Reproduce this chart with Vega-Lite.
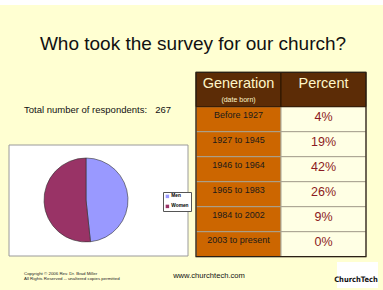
{
  "$schema": "https://vega.github.io/schema/vega-lite/v6.json",
  "width": 383,
  "height": 290,
  "autosize": {"type": "fit", "contains": "padding"},
  "padding": {"top": 5, "left": 0, "right": 0, "bottom": 0},
  "background": "#ffffff",
  "config": {
    "view": {"fill": "#FFFFD2", "stroke": null},
    "font": "Liberation Sans",
    "text": {"font": "Liberation Sans"},
    "axis": {"disable": true}
  },
  "datasets": {
    "generations": [
      {"generation": "Before 1927", "share": 0.04},
      {"generation": "1927 to 1945", "share": 0.19},
      {"generation": "1946 to 1964", "share": 0.42},
      {"generation": "1965 to 1983", "share": 0.26},
      {"generation": "1984 to 2002", "share": 0.09},
      {"generation": "2003 to present", "share": 0.0}
    ],
    "header": [
      {"column": "generation", "label": "Generation", "note": "(date born)"},
      {"column": "share", "label": "Percent", "note": ""}
    ],
    "respondents": [
      {"sex": "Men", "count": 129},
      {"sex": "Women", "count": 138}
    ],
    "total": [{"total": 267}]
  },
  "resolve": {"scale": {"x": "independent", "y": "independent", "color": "independent", "fill": "independent", "theta": "independent"}},
  "layer": [
    {
      "data": {"values": [{"panel": "Respondents by sex"}]},
      "mark": {"type": "rect", "fill": "#ffffff", "stroke": "#9a9a9a", "strokeWidth": 1},
      "encoding": {
        "x": {"field": "panel", "type": "nominal", "axis": null, "scale": {"type": "band", "domain": ["Respondents by sex"], "range": [9, 188], "paddingInner": 0, "paddingOuter": 0}},
        "y": {"field": "panel", "type": "nominal", "axis": null, "scale": {"type": "band", "domain": ["Respondents by sex"], "range": [140, 251], "paddingInner": 0, "paddingOuter": 0}}
      }
    },
    {
      "data": {"name": "respondents"},
      "mark": {"type": "arc", "radius": 42, "stroke": "#333333", "strokeWidth": 0.6},
      "encoding": {
        "theta": {"field": "count", "type": "quantitative", "stack": true},
        "order": {"field": "sex", "type": "nominal", "sort": "ascending"},
        "color": {
          "field": "sex", "type": "nominal",
          "scale": {"domain": ["Men", "Women"], "range": ["#9999FF", "#993366"]},
          "legend": {
            "orient": "none", "legendX": 163, "legendY": 187, "title": null,
            "symbolType": "square", "symbolSize": 12, "symbolStrokeWidth": 0,
            "labelFontSize": 4.8, "labelFontWeight": "bold", "labelOffset": 1.5,
            "rowPadding": 4, "padding": 2, "strokeColor": "#555555", "fillColor": "#ffffff"
          }
        },
        "x": {"datum": "Respondents by sex", "type": "nominal", "axis": null, "scale": {"type": "point", "domain": ["Respondents by sex"], "range": [49, 123]}},
        "y": {"datum": "Respondents by sex", "type": "nominal", "axis": null, "scale": {"type": "point", "domain": ["Respondents by sex"], "range": [150, 240]}}
      }
    },
    {
      "data": {"name": "generations"},
      "transform": [{"fold": ["generation", "share"], "as": ["column", "cell"]}],
      "mark": {"type": "rect", "stroke": "#a8a290", "strokeWidth": 1},
      "encoding": {
        "x": {"field": "column", "type": "nominal", "axis": null, "scale": {"type": "band", "domain": ["generation", "share"], "range": [196, 366], "paddingInner": 0, "paddingOuter": 0}},
        "y": {"field": "generation", "type": "nominal", "axis": null, "scale": {"type": "band", "domain": ["Before 1927", "1927 to 1945", "1946 to 1964", "1965 to 1983", "1984 to 2002", "2003 to present"], "range": [101.7, 251.7], "paddingInner": 0, "paddingOuter": 0}},
        "fill": {"field": "column", "type": "nominal", "legend": null, "scale": {"domain": ["generation", "share"], "range": ["#CC6600", "#FFFFE4"]}}
      }
    },
    {
      "data": {"name": "generations"},
      "mark": {"type": "text", "fontSize": 9, "color": "#1a1a1a", "dy": -4.5, "baseline": "middle"},
      "encoding": {
        "x": {"datum": "generation", "type": "nominal", "axis": null, "scale": {"type": "band", "domain": ["generation", "share"], "range": [196, 366], "paddingInner": 0, "paddingOuter": 0}},
        "y": {"field": "generation", "type": "nominal", "axis": null, "scale": {"type": "band", "domain": ["Before 1927", "1927 to 1945", "1946 to 1964", "1965 to 1983", "1984 to 2002", "2003 to present"], "range": [101.7, 251.7], "paddingInner": 0, "paddingOuter": 0}},
        "text": {"field": "generation", "type": "nominal"}
      }
    },
    {
      "data": {"name": "generations"},
      "mark": {"type": "text", "fontSize": 12.5, "color": "#8B1A22", "dy": -2.5, "baseline": "middle"},
      "encoding": {
        "x": {"datum": "share", "type": "nominal", "axis": null, "scale": {"type": "band", "domain": ["generation", "share"], "range": [196, 366], "paddingInner": 0, "paddingOuter": 0}},
        "y": {"field": "generation", "type": "nominal", "axis": null, "scale": {"type": "band", "domain": ["Before 1927", "1927 to 1945", "1946 to 1964", "1965 to 1983", "1984 to 2002", "2003 to present"], "range": [101.7, 251.7], "paddingInner": 0, "paddingOuter": 0}},
        "text": {"field": "share", "type": "quantitative", "format": ".0%"}
      }
    },
    {
      "data": {"name": "header"},
      "mark": {"type": "rect", "fill": "#5C2C06", "stroke": "#2a1400", "strokeWidth": 1},
      "encoding": {
        "x": {"field": "column", "type": "nominal", "axis": null, "scale": {"type": "band", "domain": ["generation", "share"], "range": [196, 366], "paddingInner": 0, "paddingOuter": 0}},
        "y": {"datum": "header", "type": "nominal", "axis": null, "scale": {"type": "band", "domain": ["header"], "range": [67.3, 101.7], "paddingInner": 0, "paddingOuter": 0}}
      }
    },
    {
      "data": {"name": "header"},
      "mark": {"type": "text", "fontSize": 14.5, "color": "#FFF6C8", "dy": -6, "baseline": "middle"},
      "encoding": {
        "x": {"field": "column", "type": "nominal", "axis": null, "scale": {"type": "band", "domain": ["generation", "share"], "range": [196, 366], "paddingInner": 0, "paddingOuter": 0}},
        "y": {"datum": "header", "type": "nominal", "axis": null, "scale": {"type": "band", "domain": ["header"], "range": [67.3, 101.7], "paddingInner": 0, "paddingOuter": 0}},
        "text": {"field": "label", "type": "nominal"}
      }
    },
    {
      "data": {"name": "header"},
      "mark": {"type": "text", "fontSize": 7, "color": "#FFF6C8", "dy": 10, "baseline": "middle"},
      "encoding": {
        "x": {"field": "column", "type": "nominal", "axis": null, "scale": {"type": "band", "domain": ["generation", "share"], "range": [196, 366], "paddingInner": 0, "paddingOuter": 0}},
        "y": {"datum": "header", "type": "nominal", "axis": null, "scale": {"type": "band", "domain": ["header"], "range": [67.3, 101.7], "paddingInner": 0, "paddingOuter": 0}},
        "text": {"field": "note", "type": "nominal"}
      }
    },
    {
      "data": {"values": [{"part": "table"}]},
      "mark": {"type": "rect", "filled": false, "stroke": "#2b2015", "strokeWidth": 1.2},
      "encoding": {
        "x": {"field": "part", "type": "nominal", "axis": null, "scale": {"type": "band", "domain": ["table"], "range": [196, 366], "paddingInner": 0, "paddingOuter": 0}},
        "y": {"field": "part", "type": "nominal", "axis": null, "scale": {"type": "band", "domain": ["table"], "range": [67.3, 251.7], "paddingInner": 0, "paddingOuter": 0}}
      }
    },
    {
      "data": {"values": [{"part": "logo"}]},
      "mark": {"type": "rect", "fill": "#ffffff"},
      "encoding": {
        "x": {"field": "part", "type": "nominal", "axis": null, "scale": {"type": "band", "domain": ["logo"], "range": [337, 378], "paddingInner": 0, "paddingOuter": 0}},
        "y": {"field": "part", "type": "nominal", "axis": null, "scale": {"type": "band", "domain": ["logo"], "range": [257, 283], "paddingInner": 0, "paddingOuter": 0}}
      }
    },
    {
      "data": {"values": [{}]},
      "mark": {"type": "text", "text": "Who took the survey for our church?", "fontSize": 19, "color": "#111111", "align": "center", "baseline": "alphabetic"},
      "encoding": {"x": {"value": 193}, "y": {"value": 44.5}}
    },
    {
      "data": {"values": [{}]},
      "mark": {"type": "text", "text": "Total number of respondents:", "fontSize": 9.5, "color": "#111111", "align": "left", "baseline": "alphabetic"},
      "encoding": {"x": {"value": 24}, "y": {"value": 107.5}}
    },
    {
      "data": {"name": "total"},
      "mark": {"type": "text", "fontSize": 9.5, "color": "#111111", "align": "right", "baseline": "alphabetic"},
      "encoding": {"x": {"value": 171}, "y": {"value": 107.5}, "text": {"field": "total", "type": "quantitative"}}
    },
    {
      "data": {"values": [{}]},
      "mark": {"type": "text", "text": ["Copyright © 2006 Rev. Dr. Brad Miller", "All Rights Reserved -- unaltered copies permitted"], "fontSize": 4.4, "lineHeight": 4.3, "color": "#222222", "align": "left", "baseline": "alphabetic"},
      "encoding": {"x": {"value": 24}, "y": {"value": 270.3}}
    },
    {
      "data": {"values": [{}]},
      "mark": {"type": "text", "text": "www.churchtech.com", "fontSize": 7.6, "color": "#111111", "align": "center", "baseline": "alphabetic"},
      "encoding": {"x": {"value": 209}, "y": {"value": 273.3}}
    },
    {
      "data": {"values": [{}]},
      "mark": {"type": "text", "text": "ChurchTech", "font": "'DejaVu Sans Condensed', 'DejaVu Sans', sans-serif", "fontWeight": "bold", "fontSize": 7.5, "color": "#111111", "align": "center", "baseline": "alphabetic"},
      "encoding": {"x": {"value": 356}, "y": {"value": 276.5}}
    }
  ]
}
